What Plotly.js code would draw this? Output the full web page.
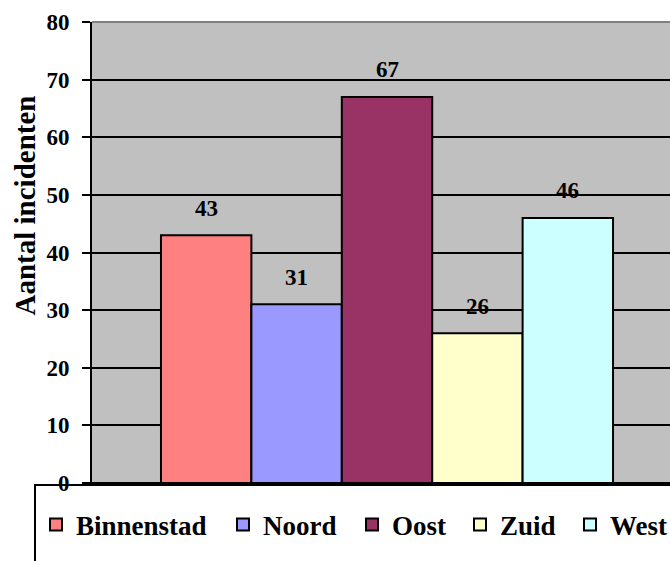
<!DOCTYPE html>
<html>
<head>
<meta charset="utf-8">
<script src="https://cdn.plot.ly/plotly-3.0.1.min.js"></script>
<style>
html, body { margin: 0; padding: 0; width: 670px; height: 561px; overflow: hidden; background: #fff; }
#chart { width: 700px; height: 561px; }
</style>
</head>
<body>
<div id="chart"></div>
<script>
const categories = ["Binnenstad", "Noord", "Oost", "Zuid", "West"];
const values = [43, 31, 67, 26, 46];
const colors = ["#FF8080", "#9999FF", "#993366", "#FFFFCC", "#CCFFFF"];
const yTickVals = [0, 10, 20, 30, 40, 50, 60, 70, 80];
const yTitle = "Aantal incidenten";

const FONT = "Liberation Serif, Times New Roman, serif";
const legendNames = ["legend", "legend2", "legend3", "legend4", "legend5"];
const legendX = [36, 223, 352, 460, 570]; // pixel positions of legend items

const W = 700, H = 561;
const M = {l: 92, r: 18, t: 22, b: 78};
const pw = W - M.l - M.r, ph = H - M.t - M.b;
const px2x = p => (p - M.l) / pw;
const py2y = p => (H - M.b - p) / ph;

const traces = categories.map((c, i) => ({
  type: "bar",
  name: c,
  x: [c],
  y: [values[i]],
  marker: {color: colors[i], line: {color: "#000", width: 2}},
  legend: legendNames[i],
  hoverinfo: "none"
}));

const annotations = categories.map((c, i) => ({
  x: c, y: values[i], xref: "x", yref: "y",
  text: String(values[i]), showarrow: false,
  yshift: 27,
  font: {family: FONT, size: 23, color: "#000", weight: "bold"}
}));

annotations.push({
  xref: "paper", yref: "paper",
  x: px2x(24), y: py2y(205.5), xanchor: "center", yanchor: "middle",
  text: yTitle, textangle: -90, showarrow: false,
  font: {family: FONT, size: 29, color: "#000", weight: "bold"}
});

const layout = {
  width: W, height: H,
  margin: M,
  paper_bgcolor: "#fff",
  plot_bgcolor: "#C0C0C0",
  barmode: "overlay",
  bargap: 0,
  showlegend: true,
  xaxis: {
    type: "category",
    categoryorder: "array",
    categoryarray: categories,
    range: [-1.263, 5.263],
    showticklabels: false,
    ticks: "",
    showgrid: false,
    showline: true, linecolor: "#000", linewidth: 2,
    zeroline: false
  },
  yaxis: {
    range: [0, 80],
    tickmode: "array",
    tickvals: yTickVals,
    ticks: "outside", ticklen: 8, tickwidth: 2, tickcolor: "#000",
    ticklabelstandoff: 8,
    showgrid: true, gridcolor: "#000", gridwidth: 2,
    showline: true, linecolor: "#000", linewidth: 2,
    zeroline: true, zerolinecolor: "#000", zerolinewidth: 2,
    tickfont: {family: FONT, size: 23, color: "#000", weight: "bold"}
  },
  annotations: annotations,
  shapes: [
    {type: "line", xref: "paper", yref: "paper", x0: 0, x1: 1, y0: 1, y1: 1,
     line: {color: "#808080", width: 2}, layer: "above"},
    {type: "rect", xref: "paper", yref: "paper",
     x0: px2x(35), x1: px2x(720), y0: py2y(485), y1: py2y(600),
     line: {color: "#000", width: 2}, fillcolor: "#fff", layer: "below"}
  ]
};

legendNames.forEach((ln, i) => {
  layout[ln] = {
    x: px2x(legendX[i]), xanchor: "left",
    y: py2y(525), yanchor: "middle",
    orientation: "h",
    bgcolor: "rgba(0,0,0,0)", borderwidth: 0,
    font: {family: FONT, size: 27, color: "#000", weight: "bold"}
  };
});

Plotly.newPlot("chart", traces, layout, {staticPlot: true, displayModeBar: false});
</script>
</body>
</html>
